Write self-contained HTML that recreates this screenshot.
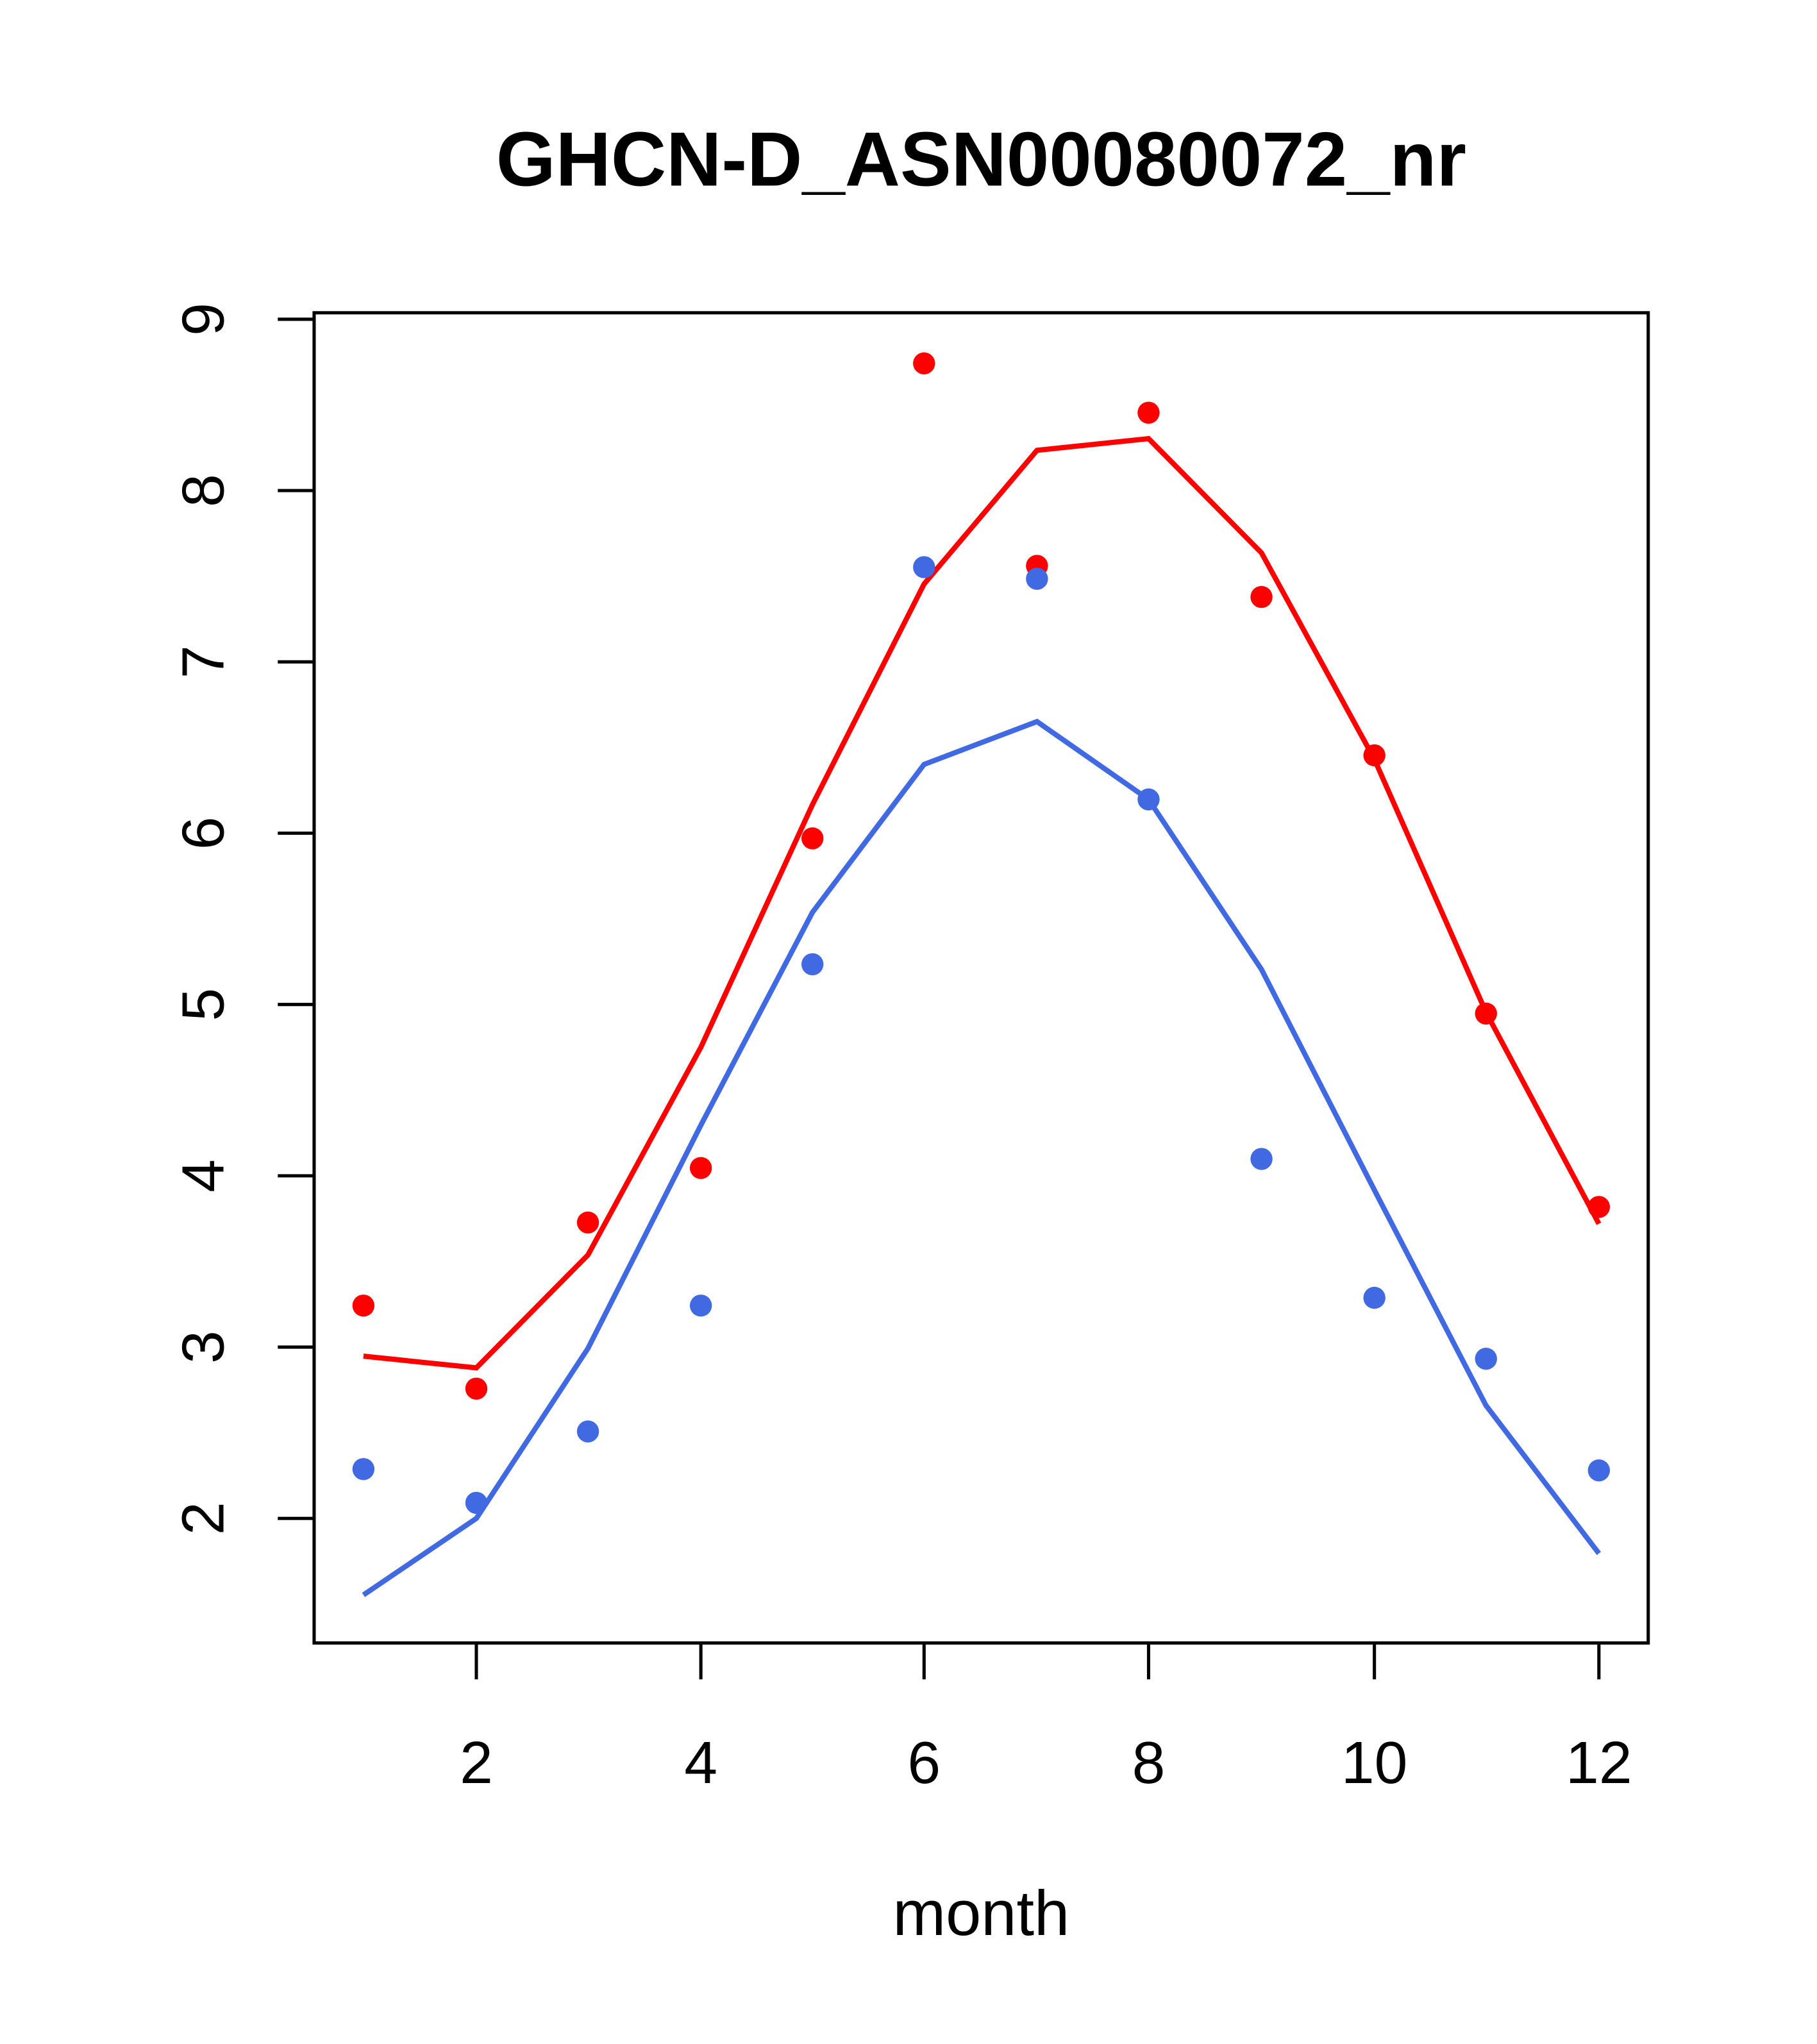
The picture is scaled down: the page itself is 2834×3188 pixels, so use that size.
<!DOCTYPE html>
<html><head><style>html,body{margin:0;padding:0;background:#fff}svg{display:block}</style></head>
<body>
<svg width="2834" height="3188" viewBox="0 0 1400 1575" xmlns="http://www.w3.org/2000/svg" font-family="Liberation Sans, sans-serif">
<rect width="1400" height="1575" fill="#fff"/>
<text x="756" y="143" font-size="59" font-weight="bold" text-anchor="middle">GHCN-D_ASN00080072_nr</text>
<rect x="242" y="241" width="1028" height="1025" fill="none" stroke="#000" stroke-width="2.5"/>
<g stroke="#000" stroke-width="2.5">
<line x1="214" y1="246" x2="242" y2="246"/><line x1="214" y1="378" x2="242" y2="378"/><line x1="214" y1="510" x2="242" y2="510"/><line x1="214" y1="642" x2="242" y2="642"/><line x1="214" y1="774" x2="242" y2="774"/><line x1="214" y1="906" x2="242" y2="906"/><line x1="214" y1="1038" x2="242" y2="1038"/><line x1="214" y1="1170" x2="242" y2="1170"/>
<line x1="367" y1="1266" x2="367" y2="1294"/><line x1="540" y1="1266" x2="540" y2="1294"/><line x1="712" y1="1266" x2="712" y2="1294"/><line x1="885" y1="1266" x2="885" y2="1294"/><line x1="1059" y1="1266" x2="1059" y2="1294"/><line x1="1232" y1="1266" x2="1232" y2="1294"/>
</g>
<g font-size="46" text-anchor="middle">
<text transform="translate(172,246) rotate(-90)">9</text>
<text transform="translate(172,378) rotate(-90)">8</text>
<text transform="translate(172,510) rotate(-90)">7</text>
<text transform="translate(172,642) rotate(-90)">6</text>
<text transform="translate(172,774) rotate(-90)">5</text>
<text transform="translate(172,906) rotate(-90)">4</text>
<text transform="translate(172,1038) rotate(-90)">3</text>
<text transform="translate(172,1170) rotate(-90)">2</text>
<text x="367" y="1374">2</text><text x="540" y="1374">4</text><text x="712" y="1374">6</text><text x="885" y="1374">8</text><text x="1059" y="1374">10</text><text x="1232" y="1374">12</text>
<text x="756" y="1491" font-size="49">month</text>
</g>
<polyline fill="none" stroke="#ff0000" stroke-width="4" points="280,1045 367,1054 453,967 540,807 626,620 712,450 799,347 885,338 972,426 1059,585 1145,780 1232,943"/>
<polyline fill="none" stroke="#4169E1" stroke-width="4" points="280,1229 367,1170 453,1039 540,867 626,703 712,589 799,556 885,616 972,747 1059,917 1145,1083 1232,1197"/>
<g fill="#ff0000">
<circle cx="280" cy="1006" r="8.5"/><circle cx="367" cy="1070" r="8.5"/><circle cx="453" cy="942" r="8.5"/><circle cx="540" cy="900" r="8.5"/><circle cx="626" cy="646" r="8.5"/><circle cx="712" cy="280" r="8.5"/><circle cx="799" cy="436" r="8.5"/><circle cx="885" cy="318" r="8.5"/><circle cx="972" cy="460" r="8.5"/><circle cx="1059" cy="582" r="8.5"/><circle cx="1145" cy="781" r="8.5"/><circle cx="1232" cy="930" r="8.5"/>
</g>
<g fill="#4169E1">
<circle cx="280" cy="1132" r="8.5"/><circle cx="367" cy="1158" r="8.5"/><circle cx="453" cy="1103" r="8.5"/><circle cx="540" cy="1006" r="8.5"/><circle cx="626" cy="743" r="8.5"/><circle cx="712" cy="437" r="8.5"/><circle cx="799" cy="446" r="8.5"/><circle cx="885" cy="616" r="8.5"/><circle cx="972" cy="893" r="8.5"/><circle cx="1059" cy="1000" r="8.5"/><circle cx="1145" cy="1047" r="8.5"/><circle cx="1232" cy="1133" r="8.5"/>
</g>
</svg>
</body></html>
